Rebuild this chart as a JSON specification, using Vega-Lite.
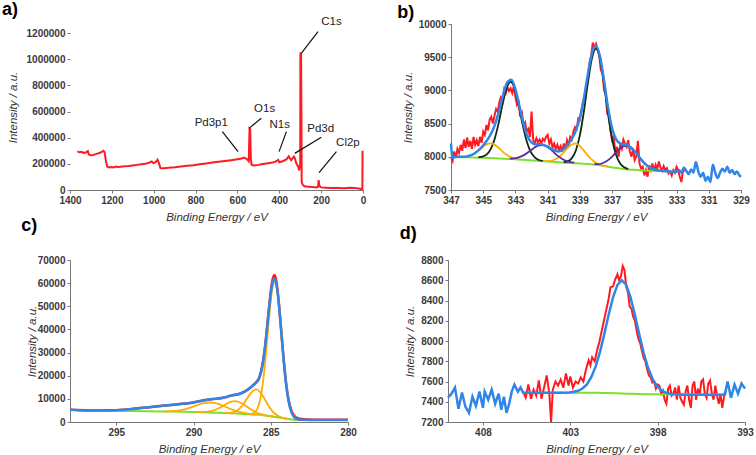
{
  "$schema": "https://vega.github.io/schema/vega-lite/v6.json",
  "padding": {"left": 2, "top": 0, "right": 0, "bottom": 0},
  "background": "white",
  "spacing": -6,
  "config": {
    "view": {"stroke": null},
    "font": "Liberation Sans",
    "axis": {
      "grid": false,
      "domainColor": "#777",
      "tickColor": "#777",
      "tickSize": 3,
      "labelOverlap": false,
      "labelFlush": false,
      "labelFont": "Liberation Sans",
      "labelFontSize": 10,
      "labelFontWeight": "bold",
      "labelColor": "#3a3a3a",
      "titleFont": "Liberation Sans",
      "titleFontSize": 11.5,
      "titleFontWeight": "normal",
      "titleFontStyle": "italic",
      "titleColor": "#333"
    },
    "title": {"font": "Liberation Sans", "fontSize": 18, "fontWeight": "bold", "color": "#000", "anchor": "start", "frame": "bounds", "dx": -5}
  },
  "datasets": {
    "survey": [
      {"be":1365,"i":295000},{"be":1355,"i":288000},{"be":1345,"i":292000},{"be":1335,"i":283000},{"be":1325,"i":287000},{"be":1315,"i":298000},{"be":1310,"i":272000},{"be":1300,"i":265000},{"be":1290,"i":268000},{"be":1280,"i":272000},{"be":1270,"i":278000},{"be":1260,"i":283000},{"be":1250,"i":290000},{"be":1240,"i":300000},{"be":1235,"i":290000},{"be":1228,"i":220000},{"be":1222,"i":178000},{"be":1210,"i":172000},{"be":1200,"i":176000},{"be":1190,"i":172000},{"be":1180,"i":180000},{"be":1170,"i":176000},{"be":1160,"i":177000},{"be":1150,"i":180000},{"be":1140,"i":181000},{"be":1120,"i":184000},{"be":1100,"i":188000},{"be":1080,"i":192000},{"be":1060,"i":196000},{"be":1040,"i":200000},{"be":1020,"i":210000},{"be":1010,"i":218000},{"be":1000,"i":205000},{"be":990,"i":215000},{"be":982,"i":232000},{"be":975,"i":205000},{"be":968,"i":168000},{"be":950,"i":167000},{"be":930,"i":170000},{"be":900,"i":174000},{"be":870,"i":180000},{"be":840,"i":186000},{"be":810,"i":190000},{"be":780,"i":196000},{"be":750,"i":203000},{"be":720,"i":210000},{"be":690,"i":216000},{"be":660,"i":222000},{"be":630,"i":228000},{"be":600,"i":235000},{"be":580,"i":240000},{"be":570,"i":248000},{"be":560,"i":242000},{"be":552,"i":232000},{"be":546,"i":220000},{"be":542,"i":470000},{"be":539,"i":465000},{"be":536,"i":240000},{"be":532,"i":192000},{"be":520,"i":188000},{"be":500,"i":192000},{"be":480,"i":198000},{"be":460,"i":203000},{"be":440,"i":208000},{"be":420,"i":215000},{"be":410,"i":225000},{"be":405,"i":230000},{"be":400,"i":212000},{"be":380,"i":222000},{"be":365,"i":235000},{"be":355,"i":258000},{"be":350,"i":245000},{"be":343,"i":228000},{"be":335,"i":245000},{"be":330,"i":255000},{"be":325,"i":240000},{"be":318,"i":200000},{"be":310,"i":180000},{"be":305,"i":150000},{"be":300,"i":200000},{"be":299,"i":1050000},{"be":296,"i":1040000},{"be":294,"i":500000},{"be":293,"i":60000},{"be":288,"i":40000},{"be":280,"i":28000},{"be":260,"i":25000},{"be":240,"i":22000},{"be":222,"i":20000},{"be":215,"i":25000},{"be":212,"i":75000},{"be":208,"i":30000},{"be":200,"i":20000},{"be":180,"i":18000},{"be":150,"i":16000},{"be":120,"i":15000},{"be":90,"i":14000},{"be":60,"i":17000},{"be":40,"i":16000},{"be":20,"i":12000},{"be":8,"i":8000},{"be":3,"i":5000},{"be":2,"i":300000}
    ],
    "surveyPeaks": [
      {"label":"C1s","be":151,"i":1286000,"be1":215,"i1":1210000,"be2":295,"i2":1045000},
      {"label":"O1s","be":470,"i":617000,"be1":486,"i1":548000,"be2":545,"i2":471000},
      {"label":"Pd3p1","be":725,"i":514000,"be1":672,"i1":446000,"be2":597,"i2":293000},
      {"label":"N1s","be":398,"i":497000,"be1":366,"i1":446000,"be2":401,"i2":293000},
      {"label":"Pd3d","be":202,"i":464000,"be1":199,"i1":403000,"be2":326,"i2":280000},
      {"label":"Cl2p","be":72,"i":362000,"be1":127,"i1":293000,"be2":210,"i2":132000}
    ],
    "pdRaw": [
      {"be":347.0,"i":8000},{"be":346.9,"i":7940},{"be":346.8,"i":8080},{"be":346.7,"i":7980},{"be":346.6,"i":8120},{"be":346.5,"i":8060},{"be":346.4,"i":8180},{"be":346.3,"i":8090},{"be":346.2,"i":8260},{"be":346.1,"i":8130},{"be":346.0,"i":8290},{"be":345.9,"i":8150},{"be":345.8,"i":8240},{"be":345.7,"i":8120},{"be":345.6,"i":8300},{"be":345.5,"i":8180},{"be":345.4,"i":8250},{"be":345.3,"i":8160},{"be":345.2,"i":8300},{"be":345.1,"i":8210},{"be":345.0,"i":8380},{"be":344.9,"i":8330},{"be":344.8,"i":8480},{"be":344.7,"i":8400},{"be":344.6,"i":8560},{"be":344.5,"i":8600},{"be":344.4,"i":8500},{"be":344.3,"i":8620},{"be":344.2,"i":8720},{"be":344.1,"i":8680},{"be":344.0,"i":8820},{"be":343.9,"i":8900},{"be":343.8,"i":8870},{"be":343.7,"i":9020},{"be":343.6,"i":8960},{"be":343.5,"i":9050},{"be":343.4,"i":8990},{"be":343.3,"i":9030},{"be":343.2,"i":8960},{"be":343.1,"i":9060},{"be":343.0,"i":8900},{"be":342.9,"i":8780},{"be":342.8,"i":8820},{"be":342.7,"i":8600},{"be":342.6,"i":8660},{"be":342.5,"i":8480},{"be":342.4,"i":8520},{"be":342.3,"i":8380},{"be":342.2,"i":8420},{"be":342.1,"i":8300},{"be":342.0,"i":8680},{"be":341.9,"i":8260},{"be":341.8,"i":8200},{"be":341.7,"i":8280},{"be":341.6,"i":8220},{"be":341.5,"i":8260},{"be":341.4,"i":8200},{"be":341.3,"i":8270},{"be":341.2,"i":8240},{"be":341.1,"i":8300},{"be":341.0,"i":8330},{"be":340.9,"i":8200},{"be":340.8,"i":8260},{"be":340.7,"i":8140},{"be":340.6,"i":8200},{"be":340.5,"i":8120},{"be":340.4,"i":8180},{"be":340.3,"i":8100},{"be":340.2,"i":8160},{"be":340.1,"i":8080},{"be":340.0,"i":8200},{"be":339.9,"i":8120},{"be":339.8,"i":8250},{"be":339.7,"i":8180},{"be":339.6,"i":8300},{"be":339.5,"i":8260},{"be":339.4,"i":8380},{"be":339.3,"i":8450},{"be":339.2,"i":8420},{"be":339.1,"i":8580},{"be":339.0,"i":8560},{"be":338.9,"i":8700},{"be":338.8,"i":8820},{"be":338.7,"i":8900},{"be":338.6,"i":9080},{"be":338.5,"i":9200},{"be":338.4,"i":9420},{"be":338.3,"i":9520},{"be":338.2,"i":9720},{"be":338.1,"i":9640},{"be":338.0,"i":9700},{"be":337.9,"i":9600},{"be":337.8,"i":9540},{"be":337.7,"i":9300},{"be":337.6,"i":9280},{"be":337.5,"i":9000},{"be":337.4,"i":8950},{"be":337.3,"i":8650},{"be":337.2,"i":8620},{"be":337.1,"i":8400},{"be":337.0,"i":8250},{"be":336.9,"i":8300},{"be":336.8,"i":8060},{"be":336.7,"i":8150},{"be":336.6,"i":8000},{"be":336.5,"i":8180},{"be":336.4,"i":8120},{"be":336.3,"i":8260},{"be":336.2,"i":8200},{"be":336.1,"i":8150},{"be":336.0,"i":8250},{"be":335.9,"i":8080},{"be":335.8,"i":8000},{"be":335.7,"i":8120},{"be":335.6,"i":7950},{"be":335.5,"i":8000},{"be":335.4,"i":8240},{"be":335.3,"i":7900},{"be":335.2,"i":7820},{"be":335.1,"i":7850},{"be":335.0,"i":7720},{"be":334.9,"i":7800},{"be":334.8,"i":7700},{"be":334.7,"i":7870},{"be":334.6,"i":7800},{"be":334.5,"i":7900},{"be":334.4,"i":7780},{"be":334.3,"i":7880},{"be":334.2,"i":7820},{"be":334.1,"i":7930},{"be":334.0,"i":7840},{"be":333.9,"i":7790},{"be":333.8,"i":7860},{"be":333.7,"i":7800},{"be":333.6,"i":7830},{"be":333.5,"i":7750},{"be":333.4,"i":7780},{"be":333.3,"i":7720},{"be":333.2,"i":7800},{"be":333.1,"i":7760},{"be":333.0,"i":7850},{"be":332.9,"i":7800},{"be":332.8,"i":7700},{"be":332.7,"i":7620},{"be":332.6,"i":7800},{"be":332.5,"i":7780}
    ],
    "pdFit": [
      {"be":347.0,"i":8200},{"be":346.9,"i":7985},{"be":346.75,"i":7998},{"be":346.5,"i":7999},{"be":346.25,"i":7999},{"be":346.0,"i":8006},{"be":345.75,"i":8024},{"be":345.5,"i":8057},{"be":345.25,"i":8107},{"be":345.0,"i":8174},{"be":344.75,"i":8252},{"be":344.5,"i":8354},{"be":344.25,"i":8500},{"be":344.0,"i":8708},{"be":343.75,"i":8943},{"be":343.5,"i":9124},{"be":343.25,"i":9161},{"be":343.0,"i":9015},{"be":342.75,"i":8758},{"be":342.5,"i":8496},{"be":342.25,"i":8308},{"be":342.0,"i":8216},{"be":341.75,"i":8191},{"be":341.5,"i":8190},{"be":341.25,"i":8180},{"be":341.0,"i":8153},{"be":340.75,"i":8117},{"be":340.5,"i":8088},{"be":340.25,"i":8085},{"be":340.0,"i":8117},{"be":339.75,"i":8181},{"be":339.5,"i":8269},{"be":339.25,"i":8394},{"be":339.0,"i":8589},{"be":338.75,"i":8885},{"be":338.5,"i":9249},{"be":338.25,"i":9562},{"be":338.0,"i":9674},{"be":337.75,"i":9511},{"be":337.5,"i":9148},{"be":337.25,"i":8741},{"be":337.0,"i":8429},{"be":336.75,"i":8262},{"be":336.5,"i":8203},{"be":336.25,"i":8190},{"be":336.0,"i":8168},{"be":335.75,"i":8123},{"be":335.5,"i":8054},{"be":335.25,"i":7975},{"be":335.0,"i":7906},{"be":334.75,"i":7855},{"be":334.5,"i":7820},{"be":334.25,"i":7801},{"be":334.0,"i":7791},{"be":333.5,"i":7781},{"be":333.0,"i":7775},{"be":332.85,"i":7800},{"be":332.7,"i":7760},{"be":332.55,"i":7840},{"be":332.4,"i":7790},{"be":332.25,"i":7740},{"be":332.1,"i":7810},{"be":331.95,"i":7760},{"be":331.8,"i":7920},{"be":331.65,"i":7780},{"be":331.5,"i":7700},{"be":331.35,"i":7760},{"be":331.2,"i":7640},{"be":331.05,"i":7700},{"be":330.9,"i":7620},{"be":330.75,"i":7880},{"be":330.6,"i":7760},{"be":330.45,"i":7680},{"be":330.3,"i":7760},{"be":330.15,"i":7820},{"be":330.0,"i":7780},{"be":329.85,"i":7850},{"be":329.7,"i":7760},{"be":329.55,"i":7800},{"be":329.4,"i":7740},{"be":329.25,"i":7780},{"be":329.1,"i":7720},{"be":329.0,"i":7700}
    ],
    "pdBg": [
      {"be":346.75,"i":7998},{"be":346,"i":7992},{"be":345,"i":7985},{"be":344,"i":7976},{"be":343,"i":7964},{"be":342,"i":7946},{"be":341,"i":7928},{"be":340,"i":7913},{"be":339,"i":7900},{"be":338.5,"i":7890},{"be":338,"i":7880},{"be":337.5,"i":7860},{"be":337,"i":7840},{"be":336.5,"i":7825},{"be":336,"i":7810},{"be":335.5,"i":7802},{"be":335,"i":7795},{"be":334,"i":7786},{"be":333.1,"i":7776}
    ],
    "pdComp": [
      {"peak":"Pd(0) 3d3/2","species":"Pd(0)","be":345.3,"i":7992},{"peak":"Pd(0) 3d3/2","species":"Pd(0)","be":345.05,"i":8001},{"peak":"Pd(0) 3d3/2","species":"Pd(0)","be":344.8,"i":8033},{"peak":"Pd(0) 3d3/2","species":"Pd(0)","be":344.55,"i":8109},{"peak":"Pd(0) 3d3/2","species":"Pd(0)","be":344.3,"i":8262},{"peak":"Pd(0) 3d3/2","species":"Pd(0)","be":344.05,"i":8500},{"peak":"Pd(0) 3d3/2","species":"Pd(0)","be":343.8,"i":8789},{"peak":"Pd(0) 3d3/2","species":"Pd(0)","be":343.55,"i":9034},{"peak":"Pd(0) 3d3/2","species":"Pd(0)","be":343.3,"i":9130},{"peak":"Pd(0) 3d3/2","species":"Pd(0)","be":343.05,"i":9029},{"peak":"Pd(0) 3d3/2","species":"Pd(0)","be":342.8,"i":8777},{"peak":"Pd(0) 3d3/2","species":"Pd(0)","be":342.55,"i":8480},{"peak":"Pd(0) 3d3/2","species":"Pd(0)","be":342.3,"i":8234},{"peak":"Pd(0) 3d3/2","species":"Pd(0)","be":342.05,"i":8073},{"peak":"Pd(0) 3d3/2","species":"Pd(0)","be":341.8,"i":7991},{"peak":"Pd(0) 3d3/2","species":"Pd(0)","be":341.55,"i":7952},{"peak":"Pd(0) 3d3/2","species":"Pd(0)","be":341.3,"i":7936},
      {"peak":"Pd(0) 3d5/2","species":"Pd(0)","be":340.0,"i":7918},{"peak":"Pd(0) 3d5/2","species":"Pd(0)","be":339.75,"i":7931},{"peak":"Pd(0) 3d5/2","species":"Pd(0)","be":339.5,"i":7980},{"peak":"Pd(0) 3d5/2","species":"Pd(0)","be":339.25,"i":8096},{"peak":"Pd(0) 3d5/2","species":"Pd(0)","be":339.0,"i":8327},{"peak":"Pd(0) 3d5/2","species":"Pd(0)","be":338.75,"i":8686},{"peak":"Pd(0) 3d5/2","species":"Pd(0)","be":338.5,"i":9120},{"peak":"Pd(0) 3d5/2","species":"Pd(0)","be":338.25,"i":9488},{"peak":"Pd(0) 3d5/2","species":"Pd(0)","be":338.0,"i":9630},{"peak":"Pd(0) 3d5/2","species":"Pd(0)","be":337.75,"i":9473},{"peak":"Pd(0) 3d5/2","species":"Pd(0)","be":337.5,"i":9090},{"peak":"Pd(0) 3d5/2","species":"Pd(0)","be":337.25,"i":8641},{"peak":"Pd(0) 3d5/2","species":"Pd(0)","be":337.0,"i":8267},{"peak":"Pd(0) 3d5/2","species":"Pd(0)","be":336.75,"i":8026},{"peak":"Pd(0) 3d5/2","species":"Pd(0)","be":336.5,"i":7899},{"peak":"Pd(0) 3d5/2","species":"Pd(0)","be":336.25,"i":7841},{"peak":"Pd(0) 3d5/2","species":"Pd(0)","be":336.0,"i":7816},
      {"peak":"Pd(II) 3d3/2","species":"Pd(II)","be":346.3,"i":7998},{"peak":"Pd(II) 3d3/2","species":"Pd(II)","be":346.05,"i":8004},{"peak":"Pd(II) 3d3/2","species":"Pd(II)","be":345.8,"i":8019},{"peak":"Pd(II) 3d3/2","species":"Pd(II)","be":345.55,"i":8048},{"peak":"Pd(II) 3d3/2","species":"Pd(II)","be":345.3,"i":8093},{"peak":"Pd(II) 3d3/2","species":"Pd(II)","be":345.05,"i":8144},{"peak":"Pd(II) 3d3/2","species":"Pd(II)","be":344.8,"i":8187},{"peak":"Pd(II) 3d3/2","species":"Pd(II)","be":344.55,"i":8202},{"peak":"Pd(II) 3d3/2","species":"Pd(II)","be":344.3,"i":8183},{"peak":"Pd(II) 3d3/2","species":"Pd(II)","be":344.05,"i":8136},{"peak":"Pd(II) 3d3/2","species":"Pd(II)","be":343.8,"i":8079},{"peak":"Pd(II) 3d3/2","species":"Pd(II)","be":343.55,"i":8030},{"peak":"Pd(II) 3d3/2","species":"Pd(II)","be":343.3,"i":7997},{"peak":"Pd(II) 3d3/2","species":"Pd(II)","be":343.05,"i":7977},{"peak":"Pd(II) 3d3/2","species":"Pd(II)","be":342.8,"i":7964},
      {"peak":"Pd(II) 3d5/2","species":"Pd(II)","be":341.3,"i":7934},{"peak":"Pd(II) 3d5/2","species":"Pd(II)","be":341.05,"i":7934},{"peak":"Pd(II) 3d5/2","species":"Pd(II)","be":340.8,"i":7940},{"peak":"Pd(II) 3d5/2","species":"Pd(II)","be":340.55,"i":7959},{"peak":"Pd(II) 3d5/2","species":"Pd(II)","be":340.3,"i":7996},{"peak":"Pd(II) 3d5/2","species":"Pd(II)","be":340.05,"i":8055},{"peak":"Pd(II) 3d5/2","species":"Pd(II)","be":339.8,"i":8123},{"peak":"Pd(II) 3d5/2","species":"Pd(II)","be":339.55,"i":8179},{"peak":"Pd(II) 3d5/2","species":"Pd(II)","be":339.3,"i":8200},{"peak":"Pd(II) 3d5/2","species":"Pd(II)","be":339.05,"i":8175},{"peak":"Pd(II) 3d5/2","species":"Pd(II)","be":338.8,"i":8108},{"peak":"Pd(II) 3d5/2","species":"Pd(II)","be":338.55,"i":8032},{"peak":"Pd(II) 3d5/2","species":"Pd(II)","be":338.3,"i":7965},{"peak":"Pd(II) 3d5/2","species":"Pd(II)","be":338.05,"i":7919},{"peak":"Pd(II) 3d5/2","species":"Pd(II)","be":337.8,"i":7884},{"peak":"Pd(II) 3d5/2","species":"Pd(II)","be":337.55,"i":7868},{"peak":"Pd(II) 3d5/2","species":"Pd(II)","be":337.3,"i":7854},
      {"peak":"Pd(IV) 3d3/2","species":"Pd(IV)","be":343.35,"i":7971},{"peak":"Pd(IV) 3d3/2","species":"Pd(IV)","be":343.1,"i":7977},{"peak":"Pd(IV) 3d3/2","species":"Pd(IV)","be":342.85,"i":7989},{"peak":"Pd(IV) 3d3/2","species":"Pd(IV)","be":342.6,"i":8011},{"peak":"Pd(IV) 3d3/2","species":"Pd(IV)","be":342.35,"i":8044},{"peak":"Pd(IV) 3d3/2","species":"Pd(IV)","be":342.1,"i":8087},{"peak":"Pd(IV) 3d3/2","species":"Pd(IV)","be":341.85,"i":8134},{"peak":"Pd(IV) 3d3/2","species":"Pd(IV)","be":341.6,"i":8168},{"peak":"Pd(IV) 3d3/2","species":"Pd(IV)","be":341.35,"i":8178},{"peak":"Pd(IV) 3d3/2","species":"Pd(IV)","be":341.1,"i":8160},{"peak":"Pd(IV) 3d3/2","species":"Pd(IV)","be":340.85,"i":8118},{"peak":"Pd(IV) 3d3/2","species":"Pd(IV)","be":340.6,"i":8063},{"peak":"Pd(IV) 3d3/2","species":"Pd(IV)","be":340.35,"i":8010},{"peak":"Pd(IV) 3d3/2","species":"Pd(IV)","be":340.1,"i":7968},{"peak":"Pd(IV) 3d3/2","species":"Pd(IV)","be":339.85,"i":7939},{"peak":"Pd(IV) 3d3/2","species":"Pd(IV)","be":339.6,"i":7921},{"peak":"Pd(IV) 3d3/2","species":"Pd(IV)","be":339.35,"i":7911},
      {"peak":"Pd(IV) 3d5/2","species":"Pd(IV)","be":338.1,"i":7889},{"peak":"Pd(IV) 3d5/2","species":"Pd(IV)","be":337.85,"i":7889},{"peak":"Pd(IV) 3d5/2","species":"Pd(IV)","be":337.6,"i":7903},{"peak":"Pd(IV) 3d5/2","species":"Pd(IV)","be":337.35,"i":7932},{"peak":"Pd(IV) 3d5/2","species":"Pd(IV)","be":337.1,"i":7979},{"peak":"Pd(IV) 3d5/2","species":"Pd(IV)","be":336.85,"i":8042},{"peak":"Pd(IV) 3d5/2","species":"Pd(IV)","be":336.6,"i":8106},{"peak":"Pd(IV) 3d5/2","species":"Pd(IV)","be":336.35,"i":8153},{"peak":"Pd(IV) 3d5/2","species":"Pd(IV)","be":336.1,"i":8166},{"peak":"Pd(IV) 3d5/2","species":"Pd(IV)","be":335.85,"i":8141},{"peak":"Pd(IV) 3d5/2","species":"Pd(IV)","be":335.6,"i":8082},{"peak":"Pd(IV) 3d5/2","species":"Pd(IV)","be":335.35,"i":8005},{"peak":"Pd(IV) 3d5/2","species":"Pd(IV)","be":335.1,"i":7931},{"peak":"Pd(IV) 3d5/2","species":"Pd(IV)","be":334.85,"i":7871},{"peak":"Pd(IV) 3d5/2","species":"Pd(IV)","be":334.6,"i":7831},{"peak":"Pd(IV) 3d5/2","species":"Pd(IV)","be":334.35,"i":7807},{"peak":"Pd(IV) 3d5/2","species":"Pd(IV)","be":334.1,"i":7793}
    ],
    "cFit": [
      {"be":298.0,"i":5300},{"be":297.5,"i":5100},{"be":297.0,"i":5000},{"be":296.5,"i":4950},{"be":296.0,"i":4950},{"be":295.5,"i":5000},{"be":295.0,"i":5100},{"be":294.5,"i":5300},{"be":294.0,"i":5600},{"be":293.5,"i":5950},{"be":293.0,"i":6300},{"be":292.5,"i":6650},{"be":292.0,"i":7000},{"be":291.5,"i":7300},{"be":291.0,"i":7650},{"be":290.5,"i":8000},{"be":290.0,"i":8450},{"be":289.5,"i":9100},{"be":289.0,"i":9700},{"be":288.5,"i":10100},{"be":288.0,"i":10600},{"be":287.75,"i":11150},{"be":287.5,"i":11500},{"be":287.25,"i":11800},{"be":287.0,"i":12200},{"be":286.75,"i":12900},{"be":286.5,"i":13900},{"be":286.25,"i":15300},{"be":286.0,"i":16700},{"be":285.85,"i":17700},{"be":285.75,"i":19000},{"be":285.65,"i":21000},{"be":285.55,"i":24100},{"be":285.45,"i":28200},{"be":285.35,"i":33500},{"be":285.25,"i":39700},{"be":285.15,"i":46400},{"be":285.05,"i":52700},{"be":284.95,"i":57900},{"be":284.85,"i":61200},{"be":284.75,"i":61970},{"be":284.65,"i":60040},{"be":284.55,"i":55540},{"be":284.45,"i":49080},{"be":284.35,"i":41410},{"be":284.25,"i":33320},{"be":284.15,"i":25680},{"be":284.05,"i":18940},{"be":283.95,"i":13450},{"be":283.85,"i":9190},{"be":283.75,"i":6160},{"be":283.65,"i":4040},{"be":283.55,"i":2740},{"be":283.45,"i":1900},{"be":283.35,"i":1410},{"be":283.15,"i":1005},{"be":283.0,"i":920},{"be":282.5,"i":900},{"be":282.0,"i":900},{"be":281.0,"i":900},{"be":280.0,"i":900}
    ],
    "cRaw": [
      {"be":298.0,"i":5350},{"be":297.5,"i":5150},{"be":297.0,"i":5050},{"be":296.5,"i":5000},{"be":296.0,"i":5000},{"be":295.5,"i":5050},{"be":295.0,"i":5100},{"be":294.5,"i":5300},{"be":294.0,"i":5650},{"be":293.5,"i":6100},{"be":293.0,"i":6300},{"be":292.5,"i":6700},{"be":292.0,"i":7000},{"be":291.5,"i":7300},{"be":291.0,"i":7700},{"be":290.5,"i":8000},{"be":290.0,"i":8450},{"be":289.5,"i":9150},{"be":289.0,"i":9700},{"be":288.5,"i":10100},{"be":288.0,"i":10600},{"be":287.5,"i":11500},{"be":287.0,"i":12200},{"be":286.5,"i":13900},{"be":286.0,"i":16800},{"be":285.75,"i":19100},{"be":285.55,"i":24300},{"be":285.35,"i":33800},{"be":285.15,"i":47000},{"be":284.95,"i":59000},{"be":284.85,"i":62500},{"be":284.75,"i":63500},{"be":284.65,"i":61300},{"be":284.55,"i":56200},{"be":284.45,"i":49400},{"be":284.25,"i":33500},{"be":284.05,"i":19200},{"be":283.85,"i":9600},{"be":283.65,"i":4700},{"be":283.45,"i":2500},{"be":283.25,"i":1700},{"be":283.0,"i":1300},{"be":282.5,"i":1100},{"be":282.0,"i":1000},{"be":281.0,"i":950},{"be":280.0,"i":950}
    ],
    "cBg": [
      {"be":297,"i":4850},{"be":296,"i":4800},{"be":294,"i":4700},{"be":292,"i":4550},{"be":290,"i":4350},{"be":289,"i":4150},{"be":288,"i":3900},{"be":287,"i":3600},{"be":286.5,"i":3400},{"be":286,"i":3200},{"be":285.5,"i":2900},{"be":285,"i":2450},{"be":284.5,"i":1900},{"be":284,"i":1400},{"be":283.5,"i":1000},{"be":283,"i":900},{"be":280,"i":900}
    ],
    "cComp": [
      {"peak":"C1","be":286.35,"i":3355},{"peak":"C1","be":286.15,"i":3680},{"peak":"C1","be":286.05,"i":4100},{"peak":"C1","be":285.95,"i":4860},{"peak":"C1","be":285.85,"i":6015},{"peak":"C1","be":285.75,"i":8005},{"peak":"C1","be":285.65,"i":10870},{"peak":"C1","be":285.55,"i":14930},{"peak":"C1","be":285.45,"i":20220},{"peak":"C1","be":285.35,"i":26710},{"peak":"C1","be":285.25,"i":34070},{"peak":"C1","be":285.15,"i":41840},{"peak":"C1","be":285.05,"i":49150},{"peak":"C1","be":284.95,"i":55220},{"peak":"C1","be":284.85,"i":59200},{"peak":"C1","be":284.75,"i":60500},{"peak":"C1","be":284.65,"i":59000},{"peak":"C1","be":284.55,"i":54820},{"peak":"C1","be":284.45,"i":48600},{"peak":"C1","be":284.35,"i":41090},{"peak":"C1","be":284.25,"i":33120},{"peak":"C1","be":284.15,"i":25560},{"peak":"C1","be":284.05,"i":18870},{"peak":"C1","be":283.95,"i":13410},{"peak":"C1","be":283.85,"i":9170},{"peak":"C1","be":283.75,"i":6155},{"peak":"C1","be":283.65,"i":4035},{"peak":"C1","be":283.55,"i":2740},{"peak":"C1","be":283.45,"i":1900},{"peak":"C1","be":283.35,"i":1410},{"peak":"C1","be":283.15,"i":1005},{"peak":"C1","be":283.0,"i":900},
      {"peak":"C2","be":288.0,"i":3932},{"peak":"C2","be":287.75,"i":3950},{"peak":"C2","be":287.55,"i":4086},{"peak":"C2","be":287.35,"i":4430},{"peak":"C2","be":287.15,"i":5110},{"peak":"C2","be":286.95,"i":6275},{"peak":"C2","be":286.75,"i":7960},{"peak":"C2","be":286.55,"i":9980},{"peak":"C2","be":286.35,"i":12030},{"peak":"C2","be":286.15,"i":13530},{"peak":"C2","be":285.95,"i":14070},{"peak":"C2","be":285.75,"i":13360},{"peak":"C2","be":285.55,"i":11650},{"peak":"C2","be":285.35,"i":9350},{"peak":"C2","be":285.15,"i":7030},{"peak":"C2","be":284.95,"i":5115},{"peak":"C2","be":284.75,"i":3670},{"peak":"C2","be":284.55,"i":2720},{"peak":"C2","be":284.35,"i":2116},{"peak":"C2","be":284.15,"i":1720},{"peak":"C2","be":283.95,"i":1440},
      {"peak":"C3","be":289.8,"i":4311},{"peak":"C3","be":289.55,"i":4298},{"peak":"C3","be":289.3,"i":4344},{"peak":"C3","be":289.05,"i":4510},{"peak":"C3","be":288.8,"i":4816},{"peak":"C3","be":288.55,"i":5360},{"peak":"C3","be":288.3,"i":6158},{"peak":"C3","be":288.05,"i":7127},{"peak":"C3","be":287.8,"i":8090},{"peak":"C3","be":287.55,"i":8784},{"peak":"C3","be":287.3,"i":9010},{"peak":"C3","be":287.05,"i":8644},{"peak":"C3","be":286.8,"i":7730},{"peak":"C3","be":286.55,"i":6597},{"peak":"C3","be":286.3,"i":5468},{"peak":"C3","be":286.05,"i":4520},{"peak":"C3","be":285.8,"i":3776},{"peak":"C3","be":285.55,"i":3270},{"peak":"C3","be":285.3,"i":2854},{"peak":"C3","be":285.05,"i":2508},{"peak":"C3","be":284.8,"i":2271},
      {"peak":"C4","be":291.9,"i":4607},{"peak":"C4","be":291.4,"i":4709},{"peak":"C4","be":290.9,"i":5060},{"peak":"C4","be":290.4,"i":5797},{"peak":"C4","be":289.9,"i":6940},{"peak":"C4","be":289.4,"i":8023},{"peak":"C4","be":288.9,"i":8430},{"peak":"C4","be":288.4,"i":7793},{"peak":"C4","be":287.9,"i":6480},{"peak":"C4","be":287.4,"i":5117},{"peak":"C4","be":286.9,"i":4130},{"peak":"C4","be":286.4,"i":3519},{"peak":"C4","be":285.9,"i":3197}
    ],
    "nRaw": [
      {"be":405.7,"i":7500},{"be":405.55,"i":7440},{"be":405.4,"i":7570},{"be":405.25,"i":7430},{"be":405.1,"i":7520},{"be":404.95,"i":7460},{"be":404.8,"i":7610},{"be":404.65,"i":7430},{"be":404.5,"i":7540},{"be":404.35,"i":7660},{"be":404.2,"i":7480},{"be":404.1,"i":7200},{"be":404.0,"i":7520},{"be":403.85,"i":7600},{"be":403.7,"i":7560},{"be":403.55,"i":7620},{"be":403.4,"i":7540},{"be":403.25,"i":7680},{"be":403.1,"i":7560},{"be":403.0,"i":7650},{"be":402.85,"i":7540},{"be":402.7,"i":7600},{"be":402.55,"i":7580},{"be":402.4,"i":7640},{"be":402.25,"i":7600},{"be":402.1,"i":7720},{"be":401.95,"i":7810},{"be":401.85,"i":7760},{"be":401.75,"i":7840},{"be":401.6,"i":7800},{"be":401.45,"i":7920},{"be":401.35,"i":7980},{"be":401.2,"i":8100},{"be":401.1,"i":8180},{"be":400.95,"i":8300},{"be":400.8,"i":8420},{"be":400.7,"i":8530},{"be":400.55,"i":8540},{"be":400.45,"i":8600},{"be":400.3,"i":8660},{"be":400.2,"i":8600},{"be":400.1,"i":8640},{"be":400.0,"i":8740},{"be":399.9,"i":8700},{"be":399.8,"i":8540},{"be":399.7,"i":8480},{"be":399.6,"i":8340},{"be":399.5,"i":8320},{"be":399.4,"i":8240},{"be":399.3,"i":8200},{"be":399.2,"i":8100},{"be":399.1,"i":8020},{"be":399.0,"i":7980},{"be":398.9,"i":7900},{"be":398.8,"i":7830},{"be":398.7,"i":7800},{"be":398.6,"i":7720},{"be":398.5,"i":7660},{"be":398.4,"i":7640},{"be":398.3,"i":7590},{"be":398.2,"i":7600},{"be":398.1,"i":7530},{"be":398.0,"i":7570},{"be":397.9,"i":7560},{"be":397.8,"i":7480},{"be":397.7,"i":7510},{"be":397.6,"i":7420},{"be":397.5,"i":7380},{"be":397.4,"i":7530},{"be":397.3,"i":7560},{"be":397.2,"i":7460},{"be":397.1,"i":7480},{"be":397.0,"i":7540},{"be":396.9,"i":7420},{"be":396.8,"i":7560},{"be":396.7,"i":7440},{"be":396.6,"i":7400},{"be":396.5,"i":7370},{"be":396.4,"i":7500},{"be":396.3,"i":7560},{"be":396.2,"i":7420},{"be":396.1,"i":7340},{"be":396.0,"i":7560},{"be":395.9,"i":7600},{"be":395.8,"i":7420},{"be":395.7,"i":7530},{"be":395.6,"i":7460},{"be":395.5,"i":7600},{"be":395.4,"i":7620},{"be":395.3,"i":7480},{"be":395.2,"i":7440},{"be":395.1,"i":7580},{"be":395.0,"i":7610},{"be":394.9,"i":7480},{"be":394.8,"i":7420},{"be":394.7,"i":7560},{"be":394.6,"i":7460},{"be":394.5,"i":7380},{"be":394.4,"i":7470},{"be":394.3,"i":7340},{"be":394.2,"i":7450},{"be":394.15,"i":7500}
    ],
    "nFit": [
      {"be":410.0,"i":7440},{"be":409.8,"i":7480},{"be":409.6,"i":7540},{"be":409.4,"i":7330},{"be":409.2,"i":7490},{"be":409.0,"i":7350},{"be":408.8,"i":7290},{"be":408.6,"i":7450},{"be":408.4,"i":7360},{"be":408.2,"i":7500},{"be":408.0,"i":7340},{"be":407.9,"i":7500},{"be":407.7,"i":7420},{"be":407.5,"i":7520},{"be":407.3,"i":7380},{"be":407.1,"i":7480},{"be":406.95,"i":7320},{"be":406.8,"i":7450},{"be":406.65,"i":7290},{"be":406.5,"i":7380},{"be":406.35,"i":7500},{"be":406.2,"i":7570},{"be":406.0,"i":7500},{"be":405.85,"i":7540},{"be":405.7,"i":7490},
      {"be":405.0,"i":7490},{"be":404.0,"i":7490},{"be":403.5,"i":7490},{"be":403.05,"i":7492},{"be":402.8,"i":7498},{"be":402.55,"i":7508},{"be":402.3,"i":7531},{"be":402.05,"i":7572},{"be":401.8,"i":7642},{"be":401.55,"i":7747},{"be":401.3,"i":7893},{"be":401.05,"i":8071},{"be":400.8,"i":8262},{"be":400.55,"i":8434},{"be":400.3,"i":8555},{"be":400.05,"i":8600},{"be":399.8,"i":8554},{"be":399.55,"i":8431},{"be":399.3,"i":8257},{"be":399.05,"i":8064},{"be":398.8,"i":7884},{"be":398.55,"i":7736},{"be":398.3,"i":7629},{"be":398.05,"i":7557},{"be":397.8,"i":7515},{"be":397.55,"i":7491},{"be":397.3,"i":7480},{"be":397.05,"i":7473},{"be":396.5,"i":7470},{"be":395.5,"i":7470},{"be":394.3,"i":7470},
      {"be":394.15,"i":7470},{"be":394.0,"i":7600},{"be":393.8,"i":7440},{"be":393.6,"i":7570},{"be":393.4,"i":7480},{"be":393.2,"i":7580},{"be":393.0,"i":7530}
    ],
    "nBg": [
      {"be":405.5,"i":7490},{"be":401.5,"i":7488},{"be":400,"i":7482},{"be":398.5,"i":7474},{"be":394.2,"i":7470}
    ]
  },
  "vconcat": [
    {
      "hconcat": [
        {
          "title": {"text": "a)", "offset": -3},
          "width": 293, "height": 166,
          "layer": [
            {
              "data": {"name": "survey"},
              "mark": {"type": "line", "color": "#ff1a22", "strokeWidth": 2},
              "encoding": {
                "x": {"field": "be", "type": "quantitative", "scale": {"domain": [0, 1400], "reverse": true, "nice": false}, "axis": {"values": [0,200,400,600,800,1000,1200,1400], "tickCount": 30, "format": "d", "title": "Binding Energy / eV", "titlePadding": 6}},
                "y": {"field": "i", "type": "quantitative", "scale": {"domain": [0, 1268790], "nice": false}, "axis": {"values": [0,200000,400000,600000,800000,1000000,1200000], "tickCount": 30, "format": "d", "domain": false, "title": "Intensity / a.u.", "titlePadding": 8}}
              }
            },
            {
              "mark": {"type": "rule", "color": "#777", "strokeWidth": 1},
              "encoding": {"x": {"datum": 1400, "type": "quantitative"}, "y": {"datum": 0, "type": "quantitative"}, "y2": {"datum": 1200000}}
            },
            {
              "data": {"name": "surveyPeaks"},
              "mark": {"type": "rule", "color": "#111", "strokeWidth": 1.2},
              "encoding": {"x": {"field": "be1", "type": "quantitative"}, "y": {"field": "i1", "type": "quantitative"}, "x2": {"field": "be2"}, "y2": {"field": "i2"}}
            },
            {
              "data": {"name": "surveyPeaks"},
              "mark": {"type": "text", "fontSize": 11.5, "color": "#222"},
              "encoding": {"x": {"field": "be", "type": "quantitative"}, "y": {"field": "i", "type": "quantitative"}, "text": {"field": "label"}}
            },
            {
              "mark": {"type": "text", "text": "Survey", "align": "left", "baseline": "middle", "fontSize": 13, "color": "#2e93e6"},
              "encoding": {"x": {"datum": 1347, "type": "quantitative"}, "y": {"datum": 1284000, "type": "quantitative"}}
            }
          ]
        },
        {
          "title": {"text": "b)", "offset": -3},
          "width": 290, "height": 166,
          "layer": [
            {
              "data": {"name": "pdRaw"},
              "mark": {"type": "line", "color": "#ff1a22", "strokeWidth": 2},
              "encoding": {
                "x": {"field": "be", "type": "quantitative", "scale": {"domain": [329, 347], "reverse": true, "nice": false}, "axis": {"values": [347,345,343,341,339,337,335,333,331,329], "tickCount": 30, "format": "d", "title": "Binding Energy / eV", "titlePadding": 6}},
                "y": {"field": "i", "type": "quantitative", "scale": {"domain": [7500, 10000], "nice": false}, "axis": {"values": [7500,8000,8500,9000,9500,10000], "tickCount": 30, "format": "d", "title": "Intensity / a.u.", "titlePadding": 5}}
              }
            },
            {
              "data": {"name": "pdBg"},
              "mark": {"type": "line", "color": "#7ee02a", "strokeWidth": 2, "interpolate": "monotone"},
              "encoding": {"x": {"field": "be", "type": "quantitative"}, "y": {"field": "i", "type": "quantitative"}}
            },
            {
              "data": {"name": "pdComp"},
              "mark": {"type": "line", "strokeWidth": 1.8, "interpolate": "monotone"},
              "encoding": {
                "x": {"field": "be", "type": "quantitative"},
                "y": {"field": "i", "type": "quantitative"},
                "detail": {"field": "peak"},
                "color": {"field": "species", "type": "nominal", "scale": {"domain": ["Pd(0)", "Pd(II)", "Pd(IV)"], "range": ["#0e2a12", "#ffad00", "#5a2b9e"]}, "legend": null}
              }
            },
            {
              "data": {"name": "pdFit"},
              "mark": {"type": "line", "color": "#2f86e6", "strokeWidth": 2.5, "interpolate": "monotone"},
              "encoding": {"x": {"field": "be", "type": "quantitative"}, "y": {"field": "i", "type": "quantitative"}}
            },
            {
              "mark": {"type": "text", "text": "Pd3d scan", "align": "left", "baseline": "middle", "fontSize": 13, "color": "#2e93e6"},
              "encoding": {"x": {"datum": 345.74, "type": "quantitative"}, "y": {"datum": 10020, "type": "quantitative"}}
            }
          ]
        }
      ],
      "spacing": 30
    },
    {
      "hconcat": [
        {
          "title": {"text": "c)", "offset": 20},
          "width": 278, "height": 162,
          "layer": [
            {
              "data": {"name": "cRaw"},
              "mark": {"type": "line", "color": "#ff1a22", "strokeWidth": 2.5, "interpolate": "monotone"},
              "encoding": {
                "x": {"field": "be", "type": "quantitative", "scale": {"domain": [280, 298], "reverse": true, "nice": false}, "axis": {"values": [295, 290, 285, 280], "tickCount": 30, "format": "d", "title": "Binding Energy / eV", "titlePadding": 6}},
                "y": {"field": "i", "type": "quantitative", "scale": {"domain": [0, 70000], "nice": false}, "axis": {"values": [0,10000,20000,30000,40000,50000,60000,70000], "tickCount": 30, "format": "d", "title": "Intensity / a.u.", "titlePadding": 0}}
              }
            },
            {
              "data": {"name": "cBg"},
              "mark": {"type": "line", "color": "#7ee02a", "strokeWidth": 2, "interpolate": "monotone"},
              "encoding": {"x": {"field": "be", "type": "quantitative"}, "y": {"field": "i", "type": "quantitative"}}
            },
            {
              "data": {"name": "cComp"},
              "mark": {"type": "line", "color": "#ffad00", "strokeWidth": 1.8, "interpolate": "monotone"},
              "encoding": {"x": {"field": "be", "type": "quantitative"}, "y": {"field": "i", "type": "quantitative"}, "detail": {"field": "peak"}}
            },
            {
              "data": {"name": "cFit"},
              "mark": {"type": "line", "color": "#2f86e6", "strokeWidth": 2.5, "interpolate": "monotone"},
              "encoding": {"x": {"field": "be", "type": "quantitative"}, "y": {"field": "i", "type": "quantitative"}}
            },
            {
              "mark": {"type": "text", "text": "C1s scan", "align": "left", "baseline": "middle", "fontSize": 13, "color": "#2e93e6"},
              "encoding": {"x": {"datum": 296.6, "type": "quantitative"}, "y": {"datum": 71860, "type": "quantitative"}}
            }
          ]
        },
        {
          "title": {"text": "d)", "offset": 12},
          "width": 297, "height": 162,
          "layer": [
            {
              "data": {"name": "nRaw"},
              "mark": {"type": "line", "color": "#ff1a22", "strokeWidth": 2},
              "encoding": {
                "x": {"field": "be", "type": "quantitative", "scale": {"domain": [393, 410], "reverse": true, "nice": false}, "axis": {"values": [408, 403, 398, 393], "tickCount": 30, "format": "d", "title": "Binding Energy / eV", "titlePadding": 6}},
                "y": {"field": "i", "type": "quantitative", "scale": {"domain": [7200, 8800], "nice": false}, "axis": {"values": [7200,7400,7600,7800,8000,8200,8400,8600,8800], "tickCount": 30, "format": "d", "title": "Intensity /  a.u.", "titlePadding": 5}}
              }
            },
            {
              "data": {"name": "nBg"},
              "mark": {"type": "line", "color": "#7ee02a", "strokeWidth": 2, "interpolate": "monotone"},
              "encoding": {"x": {"field": "be", "type": "quantitative"}, "y": {"field": "i", "type": "quantitative"}}
            },
            {
              "data": {"name": "nFit"},
              "mark": {"type": "line", "color": "#2f86e6", "strokeWidth": 2.5},
              "encoding": {"x": {"field": "be", "type": "quantitative"}, "y": {"field": "i", "type": "quantitative"}}
            },
            {
              "mark": {"type": "text", "text": "N1s scan", "align": "left", "baseline": "middle", "fontSize": 13, "color": "#2e93e6"},
              "encoding": {"x": {"datum": 408.0, "type": "quantitative"}, "y": {"datum": 8827, "type": "quantitative"}}
            }
          ]
        }
      ],
      "spacing": 42
    }
  ]
}
